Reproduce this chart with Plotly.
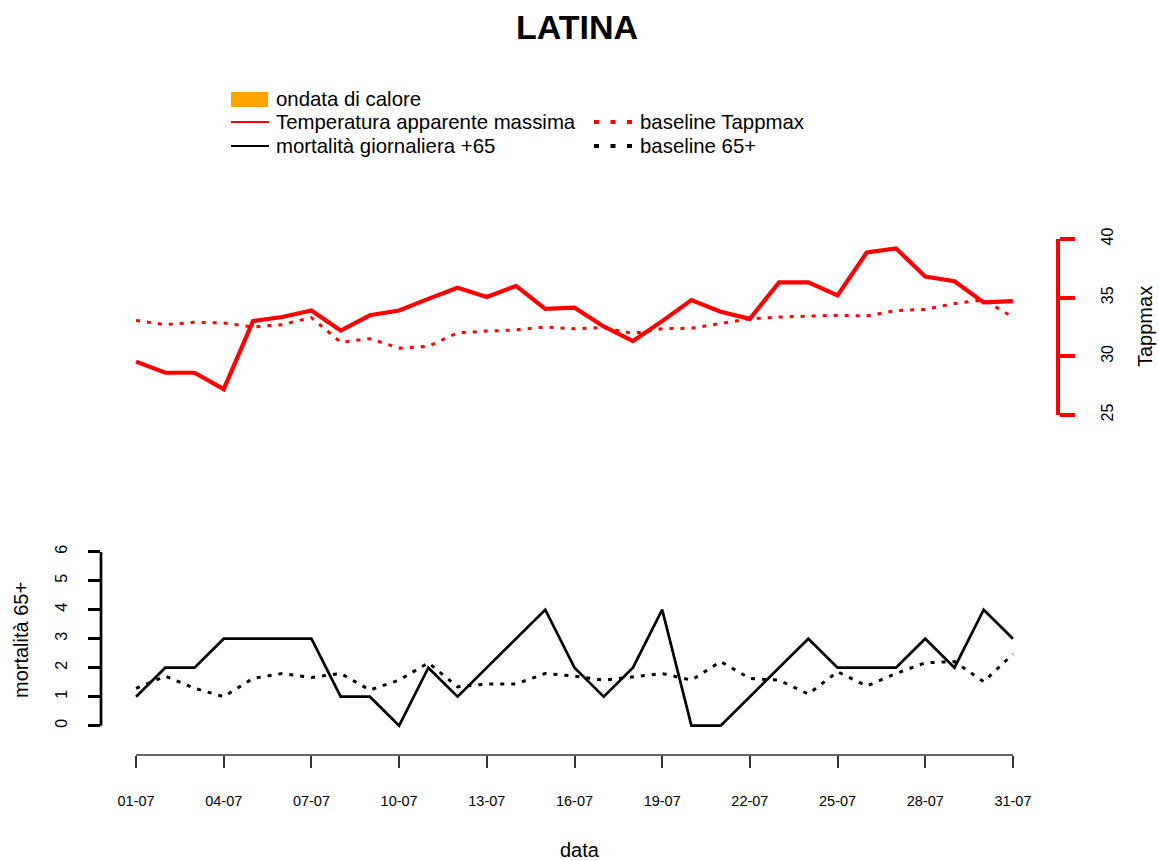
import plotly.graph_objects as go

# ---------------- data ----------------
giorni = ["01-07", "02-07", "03-07", "04-07", "05-07", "06-07", "07-07", "08-07",
          "09-07", "10-07", "11-07", "12-07", "13-07", "14-07", "15-07", "16-07",
          "17-07", "18-07", "19-07", "20-07", "21-07", "22-07", "23-07", "24-07",
          "25-07", "26-07", "27-07", "28-07", "29-07", "30-07", "31-07"]
tick_giorni = ["01-07", "04-07", "07-07", "10-07", "13-07", "16-07",
               "19-07", "22-07", "25-07", "28-07", "31-07"]

tappmax = [29.55, 28.6, 28.6, 27.2, 33.0, 33.35, 33.9, 32.2, 33.5, 33.9, 34.9,
           35.85, 35.05, 36.0, 34.05, 34.15, 32.55, 31.3, 33.0, 34.8, 33.8, 33.2,
           36.3, 36.3, 35.2, 38.85, 39.2, 36.8, 36.4, 34.6, 34.7]
baseline_tappmax = [33.05, 32.7, 32.9, 32.85, 32.5, 32.7, 33.3, 31.2, 31.5, 30.7,
                    30.85, 32.0, 32.15, 32.25, 32.5, 32.35, 32.45, 31.95, 32.35,
                    32.4, 32.8, 33.2, 33.35, 33.45, 33.5, 33.45, 33.9, 34.0, 34.5,
                    34.8, 33.35]
mortalita = [1, 2, 2, 3, 3, 3, 3, 1, 1, 0, 2, 1, 2, 3, 4, 2, 1, 2, 4, 0, 0, 1, 2,
             3, 2, 2, 2, 3, 2, 4, 3]
baseline_65 = [1.29, 1.71, 1.29, 1.0, 1.63, 1.8, 1.66, 1.8, 1.23, 1.57, 2.17, 1.34,
               1.44, 1.44, 1.8, 1.71, 1.57, 1.69, 1.8, 1.57, 2.21, 1.63, 1.57, 1.09,
               1.86, 1.37, 1.8, 2.17, 2.21, 1.52, 2.47]
mort_ticks = [0, 1, 2, 3, 4, 5, 6]
temp_ticks = [25, 30, 35, 40]

# ---------------- layout helpers ----------------
W, H = 1159, 861
ML, MR, MT, MB = 101, 100, 230, 100
PW, PH = W - ML - MR, H - MT - MB
FONT = "Liberation Sans, Arial, sans-serif"
DASH = "4px,7px"


def px(x):
    return (x - ML) / PW


def py(y):
    return (H - MB - y) / PH


fig = go.Figure()

fig.add_trace(go.Scatter(x=giorni, y=tappmax, mode="lines", yaxis="y2",
                         line=dict(color="#FF0000", width=4.2),
                         name="Temperatura apparente massima", showlegend=False))
fig.add_trace(go.Scatter(x=giorni, y=baseline_tappmax, mode="lines", yaxis="y2",
                         line=dict(color="#FF0000", width=3, dash=DASH),
                         name="baseline Tappmax", showlegend=False))
fig.add_trace(go.Scatter(x=giorni, y=mortalita, mode="lines", yaxis="y",
                         line=dict(color="#000000", width=2.7),
                         name="mortalità giornaliera +65", showlegend=False))
fig.add_trace(go.Scatter(x=giorni, y=baseline_65, mode="lines", yaxis="y",
                         line=dict(color="#000000", width=3, dash=DASH),
                         name="baseline 65+", showlegend=False))

shapes = []
# x axis line (from first to last day, as in R)
shapes.append(dict(type="line", xref="x", yref="paper", x0=giorni[0], x1=giorni[-1],
                   y0=py(755), y1=py(755), line=dict(color="#333333", width=1.5)))
# mortality axis line (0..6)
shapes.append(dict(type="line", xref="paper", yref="y", x0=0, x1=0,
                   y0=mort_ticks[0], y1=mort_ticks[-1],
                   line=dict(color="#000000", width=2.7)))

# manual legend
shapes.append(dict(type="rect", xref="paper", yref="paper", x0=px(231), x1=px(268),
                   y0=py(107), y1=py(92), fillcolor="#FFA500", line=dict(width=0)))
shapes.append(dict(type="line", xref="paper", yref="paper", x0=px(231), x1=px(269),
                   y0=py(122), y1=py(122), line=dict(color="#FF0000", width=2)))
shapes.append(dict(type="line", xref="paper", yref="paper", x0=px(231), x1=px(269),
                   y0=py(146), y1=py(146), line=dict(color="#000000", width=2)))
shapes.append(dict(type="line", xref="paper", yref="paper", x0=px(594), x1=px(632),
                   y0=py(122), y1=py(122),
                   line=dict(color="#FF0000", width=4, dash="5px,11.5px")))
shapes.append(dict(type="line", xref="paper", yref="paper", x0=px(594), x1=px(632),
                   y0=py(146), y1=py(146),
                   line=dict(color="#000000", width=4, dash="5px,11.5px")))

annotations = []
leg_items = [("ondata di calore", 274, 99), ("Temperatura apparente massima", 274, 122),
             ("mortalità giornaliera +65", 274, 146), ("baseline Tappmax", 638, 122),
             ("baseline 65+", 638, 146)]
for txt, lx, ly in leg_items:
    annotations.append(dict(text=txt, xref="paper", yref="paper", x=px(lx), y=py(ly),
                            xanchor="left", yanchor="middle", showarrow=False,
                            font=dict(family=FONT, size=20.4, color="#000000")))

# titles
annotations.append(dict(text="<b>LATINA</b>", xref="paper", yref="paper", x=px(577),
                        y=py(27), xanchor="center", yanchor="middle", showarrow=False,
                        font=dict(family=FONT, size=34, color="#000000")))
annotations.append(dict(text="data", xref="paper", yref="paper", x=px(580), y=py(850),
                        xanchor="center", yanchor="middle", showarrow=False,
                        font=dict(family=FONT, size=20, color="#000000")))
annotations.append(dict(text="mortalità 65+", xref="paper", yref="paper", x=px(21),
                        y=py(640), xanchor="center", yanchor="middle", showarrow=False,
                        textangle=-90, font=dict(family=FONT, size=20, color="#000000")))
annotations.append(dict(text="Tappmax", xref="paper", yref="paper", x=px(1145),
                        y=py(327), xanchor="center", yanchor="middle", showarrow=False,
                        textangle=-90, font=dict(family=FONT, size=20, color="#000000")))

fig.update_layout(
    width=W, height=H,
    margin=dict(l=ML, r=MR, t=MT, b=MB, pad=0),
    paper_bgcolor="white", plot_bgcolor="white",
    showlegend=False,
    shapes=shapes,
    annotations=annotations,
    xaxis=dict(
        domain=[0, (1048 - ML) / PW],
        type="category",
        categoryorder="array", categoryarray=giorni,
        range=[-1.2, len(giorni) - 1 + 1.2],
        anchor="free", position=py(755),
        showline=False, showgrid=False, zeroline=False,
        tickmode="array", tickvals=tick_giorni, ticktext=tick_giorni,
        ticks="outside", ticklen=12, tickwidth=1.5, tickcolor="#333333",
        ticklabelstandoff=21,
        tickfont=dict(family=FONT, size=14.5, color="#000000"),
    ),
    yaxis=dict(
        domain=[py(728.6), py(551.7)],
        range=[-0.1, 6.0],
        anchor="x", side="left",
        showline=False, showgrid=False, zeroline=False,
        tickmode="array", tickvals=mort_ticks,
        ticks="outside", ticklen=12, tickwidth=2.7, tickcolor="#000000",
        tickangle=-90, ticklabelstandoff=15,
        tickfont=dict(family=FONT, size=16, color="#000000"),
    ),
    yaxis2=dict(
        domain=[py(415), py(239)],
        range=[temp_ticks[0], temp_ticks[-1]],
        anchor="free", position=px(1058), side="right",
        showline=True, linecolor="#FF0000", linewidth=4,
        showgrid=False, zeroline=False,
        tickmode="array", tickvals=temp_ticks,
        ticks="outside", ticklen=15, tickwidth=4, tickcolor="#FF0000",
        tickangle=-90, ticklabelstandoff=19,
        tickfont=dict(family=FONT, size=16, color="#000000"),
    ),
)

fig.write_html("out.html",
               config={"displayModeBar": False},
               post_script="document.body.style.margin='0';document.body.style.padding='0';")
